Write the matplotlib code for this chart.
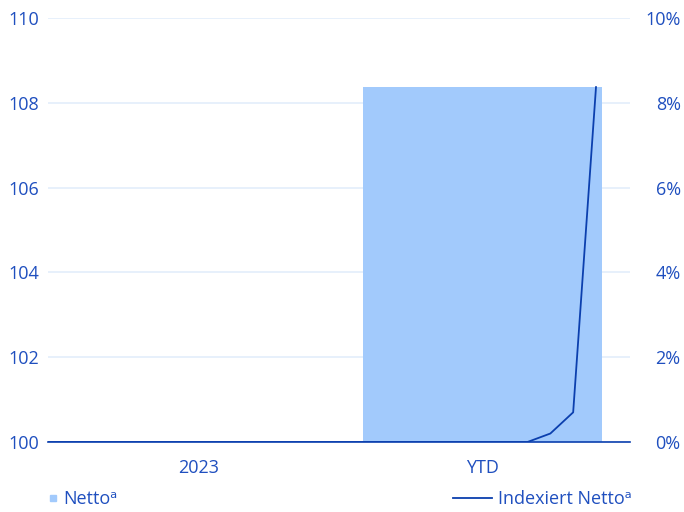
import matplotlib.pyplot as plt
from matplotlib.lines import Line2D

categories = ["2023", "YTD"]
netto = [None, 108.37]
# indexed netto, one point per period (in %)
indexiert = [0.0] * 22 + [0.2, 0.7, 8.37]

TEXT = "#1f4fbf"
BAR = "#a2cafc"
LINE = "#0b3fae"
GRID = "#e3eefb"

plt.rcParams["font.family"] = ["Open Sans", "DejaVu Sans"]
plt.rcParams["font.size"] = 13

fig = plt.figure(figsize=(6.84, 5.12), dpi=100)
ax = fig.add_axes([48 / 684, 1 - 442 / 512, 582 / 684, 424 / 512])

xs = range(len(categories))
vals = [v if v is not None else 100 for v in netto]
ax.bar(xs, [v - 100 for v in vals], bottom=100, width=0.843, color=BAR, zorder=2)
ax.set_xlim(-0.533, 1.52)
ax.set_ylim(100, 110)
ax.set_yticks(range(100, 111, 2))
ax.set_xticks(list(xs))
ax.set_xticklabels(categories)
ax.grid(axis="y", color=GRID, linewidth=1.2, zorder=0)
ax.set_axisbelow(True)
ax.tick_params(axis="y", length=0, colors=TEXT, labelsize=13, pad=6.5)
ax.tick_params(axis="x", length=0, colors=TEXT, labelsize=13, pad=12.5)
for s in ax.spines.values():
    s.set_visible(False)
ax.spines["bottom"].set_visible(True)
ax.spines["bottom"].set_color(LINE)
ax.spines["bottom"].set_linewidth(1.2)

ax2 = ax.twinx()
ax2.set_ylim(0, 10)
ax2.set_yticks(range(0, 11, 2))
ax2.set_yticklabels([f"{v}%" for v in range(0, 11, 2)], ha="right")
ax2.tick_params(length=0, colors=TEXT, labelsize=13, pad=36.5)
for s in ax2.spines.values():
    s.set_visible(False)

ax3 = ax2.twiny()
n = len(indexiert) - 1
ax3.plot(range(len(indexiert)), indexiert, color=LINE, linewidth=1.3, zorder=3)
ax3.set_xlim(0, n * 582 / 548)
ax3.set_ylim(0, 10)
ax3.axis("off")

h1 = Line2D([], [], marker="s", linestyle="none", color=BAR, markersize=3.8)
h2 = Line2D([], [], color=LINE, linewidth=1.3)
leg1 = fig.legend([h1], ["Nettoᵃ"], loc="center left", bbox_to_anchor=(50 / 684, 1 - 499 / 512),
                  frameon=False, handlelength=0.3, handletextpad=0.45, fontsize=13,
                  borderpad=0, borderaxespad=0)
for t in leg1.get_texts():
    t.set_color(TEXT)
leg2 = fig.legend([h2], ["Indexiert Nettoᵃ"], loc="center right", bbox_to_anchor=(632 / 684, 1 - 499 / 512),
                  frameon=False, handlelength=2.2, handletextpad=0.33, fontsize=13,
                  borderpad=0, borderaxespad=0)
for t in leg2.get_texts():
    t.set_color(TEXT)

fig.savefig("out.png", dpi=100)
